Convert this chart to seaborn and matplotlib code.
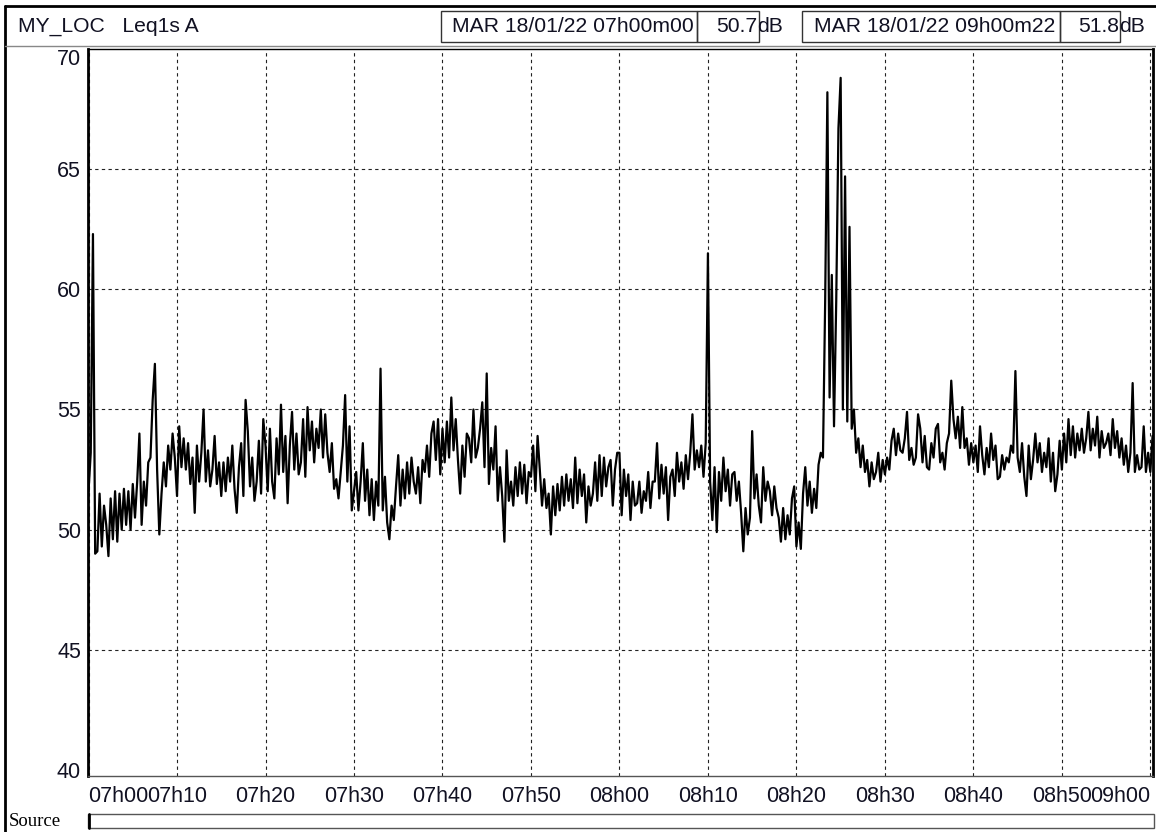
import numpy as np
import pandas as pd
import matplotlib
matplotlib.use("Agg")
import matplotlib.pyplot as plt
import seaborn as sns
from matplotlib.patches import Rectangle
from matplotlib.lines import Line2D
from matplotlib.transforms import Affine2D

sns.set_theme(style="white")
plt.rcParams['font.family'] = ['Liberation Sans', 'DejaVu Sans']

# ---------------- data (Leq 1s A, dB) : 4 readings per minute ----------------
seg_07h00 = [51.6, 53.2, 62.3, 49.0, 49.1, 51.5, 49.3, 51.0, 50.2, 48.9, 51.3, 49.6,
             51.6, 49.5, 51.5, 50.0, 51.7, 50.2, 51.6, 50.0, 51.9, 50.5, 52.0, 54.0,
             50.2, 52.0, 51.0, 52.8, 53.0, 55.4, 56.9, 52.5, 49.8, 51.5, 52.8, 51.8,
             53.5, 52.5, 54.0, 53.0]
seg_07h10 = [51.4, 54.3, 52.6, 53.8, 52.5, 53.6, 51.9, 53.0, 50.7, 53.5, 52.0, 53.2,
             55.0, 52.0, 53.3, 51.8, 52.5, 53.9, 51.9, 52.8, 51.4, 52.8, 51.6, 53.0,
             52.0, 53.5, 51.7, 50.7, 52.6, 53.6, 51.4, 55.4, 54.1, 51.8, 53.0, 51.2,
             52.0, 53.7, 51.5, 54.6]
seg_07h20 = [53.5, 51.6, 54.2, 52.0, 51.3, 53.8, 52.3, 55.2, 52.4, 53.9, 51.1, 53.5,
             54.9, 52.5, 54.0, 52.3, 52.8, 54.6, 52.2, 55.1, 53.3, 54.5, 52.8, 54.2,
             53.4, 55.0, 53.0, 54.8, 53.2, 52.4, 53.6, 51.7, 52.1, 51.3, 52.4, 53.5,
             55.6, 52.0, 54.3, 50.8]
seg_07h30 = [51.6, 52.4, 50.8, 52.0, 53.6, 51.2, 52.5, 50.6, 52.1, 50.4, 52.0, 51.0,
             56.7, 50.8, 52.2, 50.3, 49.6, 51.0, 50.4, 51.8, 53.1, 51.0, 52.5, 51.3,
             52.8, 51.5, 53.0, 52.0, 51.5, 52.6, 51.1, 52.9, 52.4, 53.5, 52.2, 54.0,
             54.5, 52.9, 54.6, 52.3]
seg_07h40 = [54.2, 52.8, 54.5, 53.0, 55.5, 53.3, 54.6, 52.9, 51.5, 53.5, 52.2, 54.0,
             53.8, 52.8, 55.0, 53.0, 53.4, 54.2, 55.3, 52.6, 56.5, 51.9, 53.4, 52.5,
             54.3, 51.2, 52.6, 51.4, 49.5, 53.3, 51.2, 52.0, 51.0, 52.6, 51.4, 52.8,
             51.5, 52.7, 51.1, 52.4]
seg_07h50 = [52.2, 53.5, 51.6, 53.9, 52.5, 51.0, 52.1, 50.9, 51.5, 49.8, 51.8, 50.6,
             51.9, 50.8, 52.2, 51.0, 52.3, 51.2, 52.1, 50.9, 53.0, 51.1, 52.5, 51.4,
             52.3, 50.3, 51.8, 51.0, 51.5, 52.8, 51.2, 53.1, 51.4, 53.0, 51.8, 52.6,
             52.9, 51.0, 52.5, 53.2]
seg_08h00 = [53.2, 50.6, 52.5, 51.4, 52.3, 50.4, 52.0, 51.0, 51.1, 52.0, 50.7, 51.6,
             51.2, 52.4, 50.9, 52.0, 52.0, 53.6, 51.3, 52.7, 51.5, 52.6, 50.4, 52.2,
             52.5, 51.4, 53.2, 52.0, 52.8, 51.7, 53.1, 52.1, 53.2, 54.8, 52.5, 53.3,
             52.6, 53.5, 52.2, 53.6]
seg_08h10 = [61.5, 52.0, 50.4, 52.6, 49.9, 52.4, 51.2, 53.0, 51.6, 52.5, 51.0, 52.3,
             52.4, 51.2, 52.0, 50.7, 49.1, 50.9, 49.8, 50.5, 54.1, 51.3, 52.3, 51.0,
             50.3, 52.6, 51.2, 52.0, 51.6, 50.6, 51.8, 50.9, 50.5, 49.5, 50.9, 49.6,
             50.6, 49.8, 51.3, 51.8]
seg_08h20 = [49.3, 50.3, 49.2, 51.5, 52.6, 51.0, 52.0, 50.7, 51.7, 50.9, 52.7, 53.2,
             53.0, 59.5, 68.2, 55.5, 60.6, 54.3, 59.5, 66.7, 68.8, 55.0, 64.7, 54.5,
             62.6, 54.2, 55.0, 53.2, 53.8, 52.6, 53.5, 52.4, 52.9, 51.8, 52.8, 52.1,
             52.4, 53.2, 52.0, 52.9]
seg_08h30 = [52.3, 53.0, 52.5, 53.7, 54.2, 53.1, 54.0, 53.3, 53.2, 53.8, 54.9, 52.9,
             53.4, 52.7, 53.0, 54.8, 54.2, 52.8, 53.9, 52.6, 52.5, 53.6, 53.0, 54.2,
             54.4, 52.8, 53.2, 52.5, 53.6, 54.0, 56.2, 54.6, 53.8, 54.7, 53.4, 55.1,
             53.4, 53.8, 52.7, 53.6]
seg_08h40 = [52.8, 53.5, 52.4, 54.3, 53.1, 52.3, 53.4, 52.6, 54.0, 52.9, 53.5, 52.1,
             52.2, 53.1, 52.5, 53.0, 52.8, 53.5, 53.2, 56.6, 53.0, 52.4, 53.6, 52.2,
             51.4, 53.5, 52.1, 52.9, 54.0, 52.8, 53.6, 52.4, 53.2, 52.6, 53.8, 52.0,
             53.2, 51.6, 52.3, 53.7]
seg_08h50 = [52.5, 54.0, 52.8, 54.6, 53.1, 54.3, 53.0, 54.0, 53.3, 54.2, 53.2, 53.8,
             54.9, 53.3, 54.2, 53.5, 54.7, 53.0, 54.1, 53.4, 53.6, 54.0, 53.1, 54.6,
             53.4, 54.1, 53.0, 53.8, 52.7, 53.5, 52.4, 53.2, 56.1, 52.4, 53.1, 52.5,
             52.6, 54.3, 52.4, 53.2]
seg_09h00 = [52.4, 53.9]

x_tick_labels = ["07h00", "07h10", "07h20", "07h30", "07h40", "07h50", "08h00",
                 "08h10", "08h20", "08h30", "08h40", "08h50", "09h00"]
y_tick_values = [40, 45, 50, 55, 60, 65, 70]
header_title = "MY_LOC   Leq1s A"
start_stamp, start_level = "MAR 18/01/22 07h00m00", "50.7"
end_stamp, end_level = "MAR 18/01/22 09h00m22", "51.8"

segments = [seg_07h00, seg_07h10, seg_07h20, seg_07h30, seg_07h40, seg_07h50,
            seg_08h00, seg_08h10, seg_08h20, seg_08h30, seg_08h40, seg_08h50, seg_09h00]
levels = np.concatenate([np.asarray(s, dtype=float) for s in segments])
sample_step_min = 0.25
minutes = np.arange(len(levels)) * sample_step_min
df = pd.DataFrame({"minute": minutes, "level": levels})

# ---------------- figure ----------------
W, H = 1156, 832
fig = plt.figure(figsize=(W / 100, H / 100), dpi=100)
fig.patch.set_facecolor("white")
px = Affine2D().scale(1 / W, -1 / H).translate(0, 1) + fig.transFigure

ax = fig.add_axes([88 / W, 1 - 776 / H, (1153 - 88) / W, (776 - 49) / H])
sns.lineplot(data=df, x="minute", y="level", ax=ax, color="black",
             linewidth=1.6, estimator=None, sort=False)

ax.set_xlim(-0.06, 120.3)
ax.set_ylim(39.75, 70.0)
ax.set_xlabel("")
ax.set_ylabel("")

ax.set_xticks(np.arange(0, 121, 10))
ax.set_xticklabels(x_tick_labels)
ax.set_yticks(y_tick_values)
ax.set_yticklabels([str(v) for v in y_tick_values])
ax.tick_params(axis="both", direction="out", length=3, width=0.8, color="black",
               labelsize=15.5, labelcolor="#111122")
ax.tick_params(axis="x", pad=4)
ax.tick_params(axis="y", pad=2)
xt = ax.get_xticklabels()
xt[0].set_ha("left")
xt[-1].set_ha("right")
yt = ax.get_yticklabels()
yt[-1].set_va("top")

ax.grid(True, color="#222222", linestyle=(0, (3, 3)), linewidth=0.8)
ax.set_axisbelow(True)
ygl = ax.get_ygridlines()
ygl[0].set_visible(False)
ygl[-1].set_visible(False)

for side, lw, col in [("left", 2.0, "black"), ("right", 2.0, "black"),
                      ("top", 1.0, "black"), ("bottom", 1.0, "#555555")]:
    ax.spines[side].set_visible(True)
    ax.spines[side].set_linewidth(lw)
    ax.spines[side].set_color(col)

# ---------------- header ----------------
fig.add_artist(Line2D([5, 5], [6, 832], transform=px, color="black", lw=2))
fig.add_artist(Line2D([5, 1156], [6, 6], transform=px, color="black", lw=2))
fig.add_artist(Line2D([5, 1156], [45.5, 45.5], transform=px, color="#888888", lw=1))

tkw = dict(transform=px, fontsize=15.2, va="center", color="#111122")
fig.text(18, 26, header_title, ha="left", **tkw)

for (x0, x1) in [(441, 697), (697, 759), (802, 1060), (1060, 1120)]:
    fig.add_artist(Rectangle((x0, 11), x1 - x0, 31, transform=px, fill=False,
                             edgecolor="#333333", lw=1))
fig.text(452, 26.5, start_stamp, ha="left", **tkw)
fig.text(757, 26.5, start_level, ha="right", **tkw)
fig.text(757, 26.5, "dB", ha="left", **tkw)
fig.text(814, 26.5, end_stamp, ha="left", **tkw)
fig.text(1119, 26.5, end_level, ha="right", **tkw)
fig.text(1119, 26.5, "dB", ha="left", **tkw)

# ---------------- source bar ----------------
fig.text(9, 822, "Source", transform=px, fontsize=13.5, ha="left", va="center",
         family=["Liberation Serif", "DejaVu Serif"], color="black")
fig.add_artist(Rectangle((88, 814), 1154 - 88, 14, transform=px, fill=False,
                         edgecolor="#555555", lw=1))
fig.add_artist(Line2D([89, 89], [814, 828], transform=px, color="black", lw=2))

fig.savefig("out.png", dpi=100, facecolor="white")
